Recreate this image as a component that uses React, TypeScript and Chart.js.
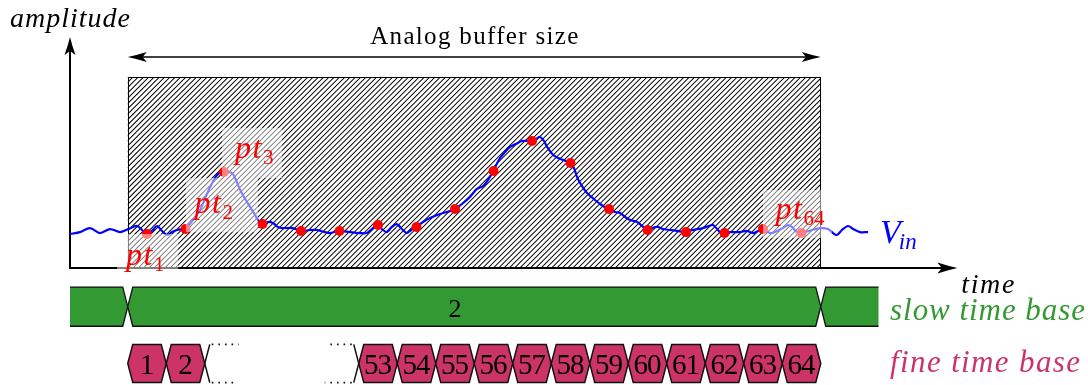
import React, { useEffect, useRef } from 'react';
import { Chart, registerables } from 'chart.js';

Chart.register(...registerables);

// ---------------- data ----------------
const sampleTimes = [1, 2, 3, 4, 5, 6, 7, 8, 9, 10, 11, 12, 13, 14, 15, 16, 17, 18];
const sampleValues = [1.78, 2.04, 5.03, 2.3, 1.94, 1.94, 2.25, 2.15, 3.09, 5.08, 6.65, 5.5, 3.09, 1.99, 1.88, 1.83, 2.04, 1.83];

const signalTimes = [
  -1.0, -0.74, -0.48, -0.22, 0.04, 0.3, 0.51, 0.74, 0.87, 1.0, 1.13, 1.26, 1.39, 1.52, 1.65, 1.78, 1.91, 2.01,
  2.19, 2.38, 2.51, 2.64, 2.82, 2.97, 3.21, 3.31, 3.42, 3.55, 3.68, 3.81, 3.88, 3.99, 4.14, 4.27, 4.4, 4.53,
  4.79, 5.0, 5.23, 5.42, 5.62, 5.75, 5.99, 6.27, 6.53, 6.71, 6.87, 6.97, 7.1, 7.23, 7.36, 7.49, 7.62, 7.75,
  7.86, 7.99, 8.17, 8.35, 8.61, 8.87, 9.0, 9.18, 9.39, 9.57, 9.73, 9.86, 9.99, 10.17, 10.3, 10.43, 10.58, 10.74,
  10.97, 11.1, 11.21, 11.31, 11.39, 11.55, 11.68, 11.81, 11.99, 12.09, 12.17, 12.3, 12.43, 12.58, 12.77, 12.97,
  13.16, 13.29, 13.42, 13.55, 13.73, 13.86, 13.99, 14.12, 14.25, 14.4, 14.58, 14.77, 14.97, 15.18, 15.44, 15.6,
  15.7, 15.81, 15.88, 15.96, 16.14, 16.4, 16.58, 16.74, 16.87, 16.97, 17.1, 17.23, 17.47, 17.65, 17.75, 17.88,
  17.96, 18.09, 18.27, 18.48, 18.69, 18.82, 18.92, 19.05, 19.21, 19.34, 19.52, 19.73,
];
const signalValues = [
  1.78, 1.88, 2.09, 1.83, 2.04, 1.88, 2.04, 2.2, 1.99, 1.76, 1.94, 2.2, 1.94, 1.73, 1.88, 1.99, 2.04, 2.09,
  2.51, 3.04, 3.66, 4.24, 4.87, 5.03, 4.97, 4.61, 4.08, 3.61, 3.19, 2.77, 2.51, 2.25, 2.41, 2.36, 2.15, 2.09,
  2.09, 1.94, 1.99, 1.99, 1.88, 1.83, 1.94, 1.88, 1.83, 1.83, 2.09, 2.25, 2.04, 1.88, 2.15, 2.3, 2.04, 1.83,
  1.99, 2.15, 2.41, 2.62, 2.83, 2.98, 3.09, 3.35, 3.72, 4.14, 4.29, 4.61, 5.08, 5.76, 6.07, 6.34, 6.49, 6.65,
  6.65, 6.75, 6.86, 6.65, 6.34, 5.92, 5.76, 5.65, 5.5, 5.24, 4.76, 4.29, 3.93, 3.66, 3.35, 3.09,
  2.93, 2.88, 2.67, 2.51, 2.41, 2.2, 1.99, 2.09, 2.15, 2.04, 1.99, 1.94, 1.88, 1.99, 2.09, 2.2,
  2.25, 2.04, 1.88, 1.83, 1.88, 1.88, 1.94, 1.83, 1.94, 2.04, 1.88, 1.83, 2.04, 2.25, 2.15, 1.88,
  1.83, 1.88, 1.99, 2.09, 2.04, 1.83, 1.73, 1.99, 2.2, 2.04, 1.88, 1.88,
];

// fine time base cell labels, one per sample slot ('' = elided cells 3..52)
const fineCellLabels = ['1', '2', '', '', '', '', '53', '54', '55', '56', '57', '58', '59', '60', '61', '62', '63', '64'];
// slow time base segment edges (time units) and their labels
const slowEdges = [-1, 0.5, 18.5, 20];
const slowLabels = ['', '2', ''];
// labelled samples: index into sampleTimes, subscript text
const ptLabelIndex = [0, 1, 2, 17];
const ptLabelSubs = ['1', '2', '3', '64'];

// buffer region and axis extents (time / amplitude units)
const bufferStart = 0.5;
const bufferEnd = 18.5;
const bufferTop = 10;
const bufferArrowLevel = 11.05;
const timeAxisEnd = 22.05;
const ampAxisTop = 12.1;

// ---------------- layout ----------------
const W = 1088;
const H = 385;
const PX_PER_T = 38.5;
const T1_PX = 147;
const PX_PER_V = 19.1;
const V0_PX = 268;
const X_MIN = -2.5;
const X_MAX = 25;
const Y_MIN = -6;
const Y_MAX = 13.5;

const SERIF = '"Liberation Serif", "Times New Roman", serif';
const GREEN = '#339933';
const CRIMSON = '#cc3366';

type Pt = { dx: number; dy: number };
// label placement (pixel offsets from the sample dot) and translucent boxes
const ptLabelOffsets: Pt[] = [
  { dx: -21, dy: 31 },
  { dx: 9, dy: -16 },
  { dx: 11, dy: -14 },
  { dx: -26, dy: -14 },
];
const ptBoxes = [
  { t0: 0.22, t1: 1.81, v0: -0.21, v1: 1.78 },
  { t0: 2.01, t1: 3.88, v0: 1.88, v1: 4.71 },
  { t0: 2.95, t1: 4.51, v0: 4.71, v1: 7.33 },
  { t0: 17.0, t1: 18.79, v0: 1.57, v1: 4.08 },
];

function arrowHead(ctx: CanvasRenderingContext2D, x: number, y: number, angle: number, len = 19, half = 5.5) {
  ctx.save();
  ctx.translate(x, y);
  ctx.rotate(angle);
  ctx.beginPath();
  ctx.moveTo(0, 0);
  ctx.quadraticCurveTo(-len * 0.45, -half * 0.35, -len, -half);
  ctx.lineTo(-len * 0.78, 0);
  ctx.lineTo(-len, half);
  ctx.quadraticCurveTo(-len * 0.45, half * 0.35, 0, 0);
  ctx.closePath();
  ctx.fillStyle = '#000';
  ctx.fill();
  ctx.restore();
}

function drawFitted(
  ctx: CanvasRenderingContext2D,
  text: string,
  x: number,
  y: number,
  font: string,
  color: string,
  targetW: number,
  align: 'left' | 'center'
) {
  const c = ctx as any;
  ctx.font = font;
  c.letterSpacing = '0px';
  const w0 = ctx.measureText(text).width;
  const n = text.length;
  let ls = n > 1 ? (targetW - w0) / (n - 1) : 0;
  ls = Math.max(-1, Math.min(4, ls));
  const total = w0 + ls * (n - 1);
  const left = align === 'center' ? x - total / 2 : x;
  c.letterSpacing = ls + 'px';
  ctx.fillStyle = color;
  ctx.textAlign = 'left';
  ctx.textBaseline = 'alphabetic';
  ctx.fillText(text, left, y);
  c.letterSpacing = '0px';
}

function drawSub(
  ctx: CanvasRenderingContext2D,
  main: string,
  sub: string,
  x: number,
  y: number,
  mainFont: string,
  subFont: string,
  color: string,
  subDy: number,
  gap = 0,
  mainSpacing = 0
) {
  const c = ctx as any;
  ctx.textAlign = 'left';
  ctx.textBaseline = 'alphabetic';
  ctx.fillStyle = color;
  ctx.font = mainFont;
  c.letterSpacing = mainSpacing + 'px';
  ctx.fillText(main, x, y);
  const w = ctx.measureText(main).width;
  c.letterSpacing = '0px';
  ctx.font = subFont;
  ctx.fillText(sub, x + w + gap, y + subDy);
}

function fillStrokeCell(
  ctx: CanvasRenderingContext2D,
  xa: number,
  xb: number,
  ya: number,
  yb: number,
  s: number,
  fill: string,
  lw: number,
  openLeft = false,
  openRight = false
) {
  const ym = (ya + yb) / 2;
  ctx.beginPath();
  if (openLeft) {
    ctx.moveTo(xa, ya);
  } else {
    ctx.moveTo(xa, ym);
    ctx.lineTo(xa + s, ya);
  }
  if (openRight) {
    ctx.lineTo(xb, ya);
    ctx.lineTo(xb, yb);
  } else {
    ctx.lineTo(xb - s, ya);
    ctx.lineTo(xb, ym);
    ctx.lineTo(xb - s, yb);
  }
  if (openLeft) {
    ctx.lineTo(xa, yb);
  } else {
    ctx.lineTo(xa + s, yb);
  }
  ctx.closePath();
  ctx.fillStyle = fill;
  ctx.fill();
  ctx.lineWidth = lw;
  ctx.strokeStyle = '#111';
  ctx.lineJoin = 'miter';
  if (!openLeft && !openRight) {
    ctx.stroke();
  } else {
    ctx.beginPath();
    if (openLeft) {
      ctx.moveTo(xa, ya);
      ctx.lineTo(xb - s, ya);
      ctx.lineTo(xb, ym);
      ctx.lineTo(xb - s, yb);
      ctx.lineTo(xa, yb);
    } else {
      ctx.moveTo(xb, yb);
      ctx.lineTo(xa + s, yb);
      ctx.lineTo(xa, ym);
      ctx.lineTo(xa + s, ya);
      ctx.lineTo(xb, ya);
    }
    ctx.stroke();
  }
}

const diagramPlugin = {
  id: 'diagram',
  beforeDatasetsDraw(chart: any) {
    const ctx: CanvasRenderingContext2D = chart.ctx;
    const xs = chart.scales.x;
    const ys = chart.scales.y;
    const px = (t: number) => xs.getPixelForValue(t);
    const py = (v: number) => ys.getPixelForValue(v);
    ctx.save();
    // hatched buffer region
    const x0 = px(bufferStart);
    const x1 = px(bufferEnd);
    const y0 = py(bufferTop);
    const y1 = py(0);
    ctx.save();
    ctx.beginPath();
    ctx.rect(x0, y0, x1 - x0, y1 - y0);
    ctx.clip();
    ctx.beginPath();
    const h = y1 - y0;
    for (let c = x0 - h; c < x1 + 6; c += 5.3) {
      ctx.moveTo(c, y1);
      ctx.lineTo(c + h, y0);
    }
    ctx.strokeStyle = '#000';
    ctx.lineWidth = 1.05;
    ctx.stroke();
    ctx.restore();
    ctx.strokeStyle = '#000';
    ctx.lineWidth = 1;
    const rx0 = Math.round(x0);
    const rx1 = Math.round(x1) - 1;
    ctx.strokeRect(rx0 + 0.5, Math.round(y0) + 0.5, rx1 - rx0, Math.round(y1 - y0));

    // axes
    const ox = px(-1);
    const oy = py(0);
    ctx.lineWidth = 2;
    ctx.beginPath();
    ctx.moveTo(ox, oy);
    ctx.lineTo(ox, py(ampAxisTop) + 12);
    ctx.moveTo(ox - 1, oy);
    ctx.lineTo(px(timeAxisEnd) - 12, oy);
    ctx.stroke();
    arrowHead(ctx, ox, py(ampAxisTop), -Math.PI / 2, 18, 5.5);
    arrowHead(ctx, px(timeAxisEnd), oy, 0, 20, 5.5);

    // buffer size arrow
    const ay = py(bufferArrowLevel);
    ctx.lineWidth = 1.5;
    ctx.beginPath();
    ctx.moveTo(x0 + 10, ay);
    ctx.lineTo(x1 - 10, ay);
    ctx.stroke();
    arrowHead(ctx, x0, ay, Math.PI, 19, 5);
    arrowHead(ctx, x1, ay, 0, 19, 5);
    ctx.restore();
  },
  afterDatasetsDraw(chart: any) {
    const ctx: CanvasRenderingContext2D = chart.ctx;
    const xs = chart.scales.x;
    const ys = chart.scales.y;
    const px = (t: number) => xs.getPixelForValue(t);
    const py = (v: number) => ys.getPixelForValue(v);
    ctx.save();

    // translucent label boxes
    ctx.fillStyle = 'rgba(255,255,255,0.5)';
    ptBoxes.forEach((b) => {
      ctx.fillRect(px(b.t0), py(b.v1), px(b.t1) - px(b.t0), py(b.v0) - py(b.v1));
    });
    // sample labels
    ptLabelIndex.forEach((idx, i) => {
      const x = px(sampleTimes[idx]) + ptLabelOffsets[i].dx;
      const y = py(sampleValues[idx]) + ptLabelOffsets[i].dy;
      drawSub(ctx, 'pt', ptLabelSubs[i], x, y, `italic 32px ${SERIF}`, `21px ${SERIF}`, '#ff0000', 6, 0, 1.5);
    });

    // slow time base
    const sTop = py(-1);
    const sBot = py(-3.05);
    for (let i = 0; i < slowLabels.length; i++) {
      const xa = px(slowEdges[i]);
      const xb = px(slowEdges[i + 1]);
      fillStrokeCell(ctx, xa, xb, sTop, sBot, 5, GREEN, 1.3, i === 0, i === slowLabels.length - 1);
      if (slowLabels[i]) {
        ctx.font = `26px ${SERIF}`;
        ctx.fillStyle = '#000';
        ctx.textAlign = 'center';
        ctx.textBaseline = 'alphabetic';
        ctx.fillText(slowLabels[i], px(9.0), py(-2.54));
      }
    }

    // fine time base
    const fTop = py(-4);
    const fBot = py(-6);
    const fMid = (fTop + fBot) / 2;
    const half = PX_PER_T / 2;
    let gapStart = -1;
    let gapEnd = -1;
    fineCellLabels.forEach((lab, i) => {
      const cx = px(sampleTimes[i]);
      if (!lab) {
        if (gapStart < 0) gapStart = cx - half;
        gapEnd = cx + half;
        return;
      }
      fillStrokeCell(ctx, cx - half, cx + half, fTop, fBot, 5, CRIMSON, 1.5);
      ctx.font = `29px ${SERIF}`;
      ctx.fillStyle = '#000';
      ctx.textAlign = 'center';
      ctx.textBaseline = 'alphabetic';
      (ctx as any).letterSpacing = '-1px';
      ctx.fillText(lab, cx - 0.5, fMid + 10);
      (ctx as any).letterSpacing = '0px';
    });
    if (gapStart >= 0) {
      ctx.strokeStyle = '#111';
      ctx.lineWidth = 1.5;
      ctx.beginPath();
      ctx.moveTo(gapStart + 5, fTop);
      ctx.lineTo(gapStart, fMid);
      ctx.lineTo(gapStart + 5, fBot);
      ctx.moveTo(gapEnd - 5, fTop);
      ctx.lineTo(gapEnd, fMid);
      ctx.lineTo(gapEnd - 5, fBot);
      ctx.stroke();
      ctx.setLineDash([1.6, 5]);
      ctx.lineWidth = 1.6;
      ctx.beginPath();
      ctx.moveTo(gapStart + 7, fTop);
      ctx.lineTo(gapStart + 34, fTop);
      ctx.moveTo(gapStart + 7, fBot);
      ctx.lineTo(gapStart + 30, fBot);
      ctx.moveTo(gapEnd - 7, fTop);
      ctx.lineTo(gapEnd - 30, fTop);
      ctx.moveTo(gapEnd - 7, fBot);
      ctx.lineTo(gapEnd - 34, fBot);
      ctx.stroke();
      ctx.setLineDash([]);
    }

    // texts
    drawFitted(ctx, 'amplitude', px(-1), py(12.62), `italic 28px ${SERIF}`, '#000', 120, 'center');
    drawFitted(ctx, 'Analog buffer size', px((bufferStart + bufferEnd) / 2), py(11.73), `25px ${SERIF}`, '#000', 208, 'center');
    drawFitted(ctx, 'time', px(22.84), py(-1.31), `italic 28px ${SERIF}`, '#000', 53, 'center');
    drawSub(ctx, 'V', 'in', px(20.04), py(1.31), `italic 34px ${SERIF}`, `italic 23px ${SERIF}`, '#0000ff', 6, -2);
    drawFitted(ctx, 'slow time base', px(20.3), py(-2.72), `italic 31px ${SERIF}`, GREEN, 195, 'left');
    drawFitted(ctx, 'fine time base', px(20.3), py(-5.45), `italic 31px ${SERIF}`, CRIMSON, 190, 'left');

    ctx.restore();
  },
};

export default function App() {
  const ref = useRef<HTMLCanvasElement | null>(null);
  useEffect(() => {
    document.body.style.margin = '0';
    document.body.style.overflow = 'hidden';
    const canvas = ref.current!;
    const padLeft = T1_PX + (X_MIN - 1) * PX_PER_T;
    const padRight = W - (T1_PX + (X_MAX - 1) * PX_PER_T);
    const padTop = V0_PX - Y_MAX * PX_PER_V;
    const padBottom = H - (V0_PX - Y_MIN * PX_PER_V);
    const chart = new Chart(canvas, {
      type: 'scatter',
      data: {
        datasets: [
          {
            data: signalTimes.map((t, i) => ({ x: t, y: signalValues[i] })),
            showLine: true,
            borderColor: '#0000ff',
            borderWidth: 2.2,
            pointRadius: 0,
            tension: 0.3,
            fill: false,
            order: 2,
            clip: false as any,
          },
          {
            data: sampleTimes.map((t, i) => ({ x: t, y: sampleValues[i] })),
            showLine: false,
            pointRadius: 5,
            pointBackgroundColor: '#ff0000',
            pointBorderWidth: 0,
            order: 1,
            clip: false as any,
          },
        ],
      },
      options: {
        responsive: false,
        animation: false,
        devicePixelRatio: 1,
        events: [],
        layout: { autoPadding: false, padding: { left: padLeft, right: padRight, top: padTop, bottom: padBottom } },
        scales: {
          x: { type: 'linear', min: X_MIN, max: X_MAX, display: false },
          y: { type: 'linear', min: Y_MIN, max: Y_MAX, display: false },
        },
        plugins: { legend: { display: false }, tooltip: { enabled: false } },
      },
      plugins: [diagramPlugin],
    });
    return () => chart.destroy();
  }, []);
  return <canvas ref={ref} width={W} height={H} style={{ display: 'block', width: W, height: H }} />;
}
